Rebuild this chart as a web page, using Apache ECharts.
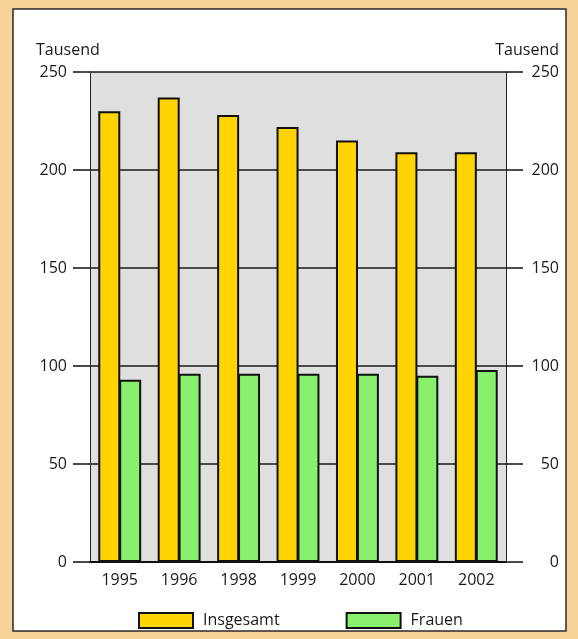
<!DOCTYPE html>
<html>
<head>
<meta charset="utf-8">
<script src="https://cdn.jsdelivr.net/npm/echarts@6/dist/echarts.min.js"></script>
<style>
  html, body { margin: 0; padding: 0; background: #f7d39a; }
  #chart { width: 578px; height: 639px; }
</style>
</head>
<body>
<div id="chart"></div>
<script>
// Daten (Tausend)
const jahre = ['1995', '1996', '1998', '1999', '2000', '2001', '2002'];
const insgesamt = [230, 237, 228, 222, 215, 209, 209];
const frauen = [93, 96, 96, 96, 96, 95, 98];
const einheit = 'Tausend';

const fontFamily = '"Open Sans", "Noto Sans", sans-serif';
const chart = echarts.init(document.getElementById('chart'));

// gemeinsame Einstellungen fuer beide y-Achsen
function yAchse(position) {
  const links = position === 'left';
  return {
    type: 'value',
    position: position,
    min: 0,
    max: 250,
    interval: 50,
    name: einheit,
    nameLocation: 'end',
    nameGap: 14,
    nameTextStyle: {
      color: '#1a1a1a',
      fontSize: 16,
      fontFamily: fontFamily,
      align: links ? 'left' : 'right',
      padding: links ? [0, 0, 0, -54] : [0, -53, 0, 0]
    },
    axisLine: { show: true, lineStyle: { color: '#222', width: 1 } },
    axisTick: { show: true, length: 17, lineStyle: { color: '#111', width: 1.5 } },
    axisLabel: {
      color: '#1a1a1a',
      fontSize: 16,
      fontFamily: fontFamily,
      align: 'right',
      margin: links ? 23 : 53
    },
    splitLine: links ? { show: true, lineStyle: { color: '#1a1a1a', width: 1.5 } } : { show: false }
  };
}

chart.setOption({
  animation: false,
  // weisses Feld mit Rahmen
  graphic: [{
    type: 'rect',
    z: -10,
    shape: { x: 13, y: 9, width: 553, height: 622 },
    style: { fill: '#ffffff', stroke: '#2a2a2a', lineWidth: 1.5 }
  }],
  grid: {
    left: 90,
    right: 72,
    top: 72,
    height: 490,
    show: true,
    backgroundColor: '#dfdfdf',
    borderWidth: 0
  },
  legend: {
    left: 133,
    top: 607,
    icon: 'rect',
    itemWidth: 54,
    itemHeight: 15,
    itemGap: 66,
    textStyle: { color: '#1a1a1a', fontSize: 16, fontFamily: fontFamily, padding: [0, 0, 0, 5] },
    data: ['Insgesamt', 'Frauen']
  },
  xAxis: {
    type: 'category',
    data: jahre,
    axisLine: { show: true, lineStyle: { color: '#111', width: 2 } },
    axisTick: { show: false },
    axisLabel: { color: '#1a1a1a', fontSize: 16, fontFamily: fontFamily, margin: 10 }
  },
  yAxis: [yAchse('left'), yAchse('right')],
  series: [
    {
      name: 'Insgesamt',
      type: 'bar',
      data: insgesamt,
      barWidth: 22,
      barGap: '-5%',
      itemStyle: { color: '#ffd400', borderColor: '#111', borderWidth: 2 }
    },
    {
      name: 'Frauen',
      type: 'bar',
      data: frauen,
      barWidth: 22,
      itemStyle: { color: '#88f06c', borderColor: '#111', borderWidth: 2 }
    }
  ]
});
</script>
</body>
</html>
